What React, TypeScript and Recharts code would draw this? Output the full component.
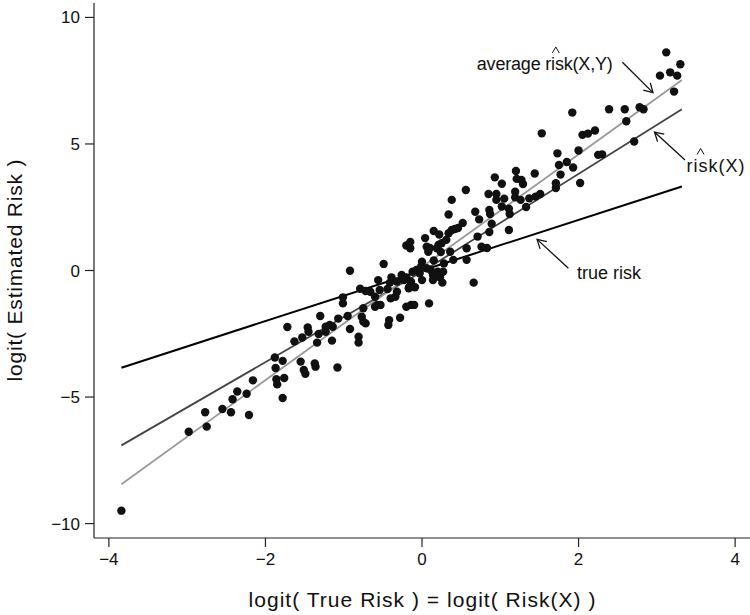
import React from 'react';
import { ComposedChart, Scatter, Line, XAxis, YAxis, ReferenceLine, ReferenceDot, Label } from 'recharts';

// logit(true risk) for each simulated subject
const trueLogit = [
  -3.84, -2.98, -2.75, -2.77, -2.55, -2.44, -2.42, -2.36, -2.24, -2.21,
  -2.16, -1.88, -1.78, -1.87, -1.86, -1.85, -1.76, -1.78, -1.72, -1.63,
  -1.53, -1.46, -1.55, -1.51, -1.49, -1.37, -1.36, -1.3, -1.34, -1.32,
  -1.45, -1.23, -1.18, -1.14, -1.23, -1.15, -1.07, -0.95, -0.92, -1.01,
  -1.01, -0.77, -0.75, -0.72, -0.81, -0.81, -1.08, -0.92, -0.49, -0.79,
  -0.72, -0.66, -0.56, -0.75, -0.6, -0.57, -0.53, -0.6, -0.54, -0.44,
  -0.41, -0.39, -0.42, -0.43, -0.28, -0.4, -0.34, -0.32, -0.32, -0.26,
  -0.23, -0.2, -0.16, -0.14, -0.2, -0.14, -0.1, -0.17, -0.09, -0.2,
  -0.15, -0.15, -0.12, -0.07, -0.03, 0.0, 0.0, 0.04, 0.06, 0.08,
  0.1, 0.06, 0.11, 0.14, 0.14, 0.15, 0.09, 0.15, 0.22, 0.19,
  0.21, 0.2, 0.23, 0.26, 0.27, 0.28, 0.25, 0.31, 0.36, 0.34,
  0.38, 0.34, 0.38, 0.42, 0.46, 0.52, 0.4, 0.57, 0.57, 0.56,
  0.68, 0.66, 0.71, 0.73, 0.76, 0.83, 0.85, 0.95, 0.95, 1.05,
  1.19, 1.19, 1.02, 1.11, 1.12, 1.26, 1.33, 1.37, 1.45, 1.51,
  0.86, 0.87, 0.89, 0.86, 1.11, 0.93, 1.02, 1.2, 1.21, 1.27,
  1.29, 1.44, 1.53, 1.71, 1.71, 1.77, 1.75, 1.85, 1.93, 2.02,
  1.73, 2.0, 1.92, 2.05, 2.12, 2.21, 2.25, 2.3, 2.39, 2.59,
  2.61, 2.78, 2.83, 2.71, 3.12, 3.04, 3.17, 3.26, 3.3, 3.22,
  0.24, -0.01,
];

// logit(estimated risk) for the same subjects
const estLogit = [
  -9.49, -6.37, -6.17, -5.6, -5.47, -5.6, -5.09, -4.78, -4.87, -5.71,
  -4.34, -3.44, -3.57, -3.85, -4.3, -4.5, -4.25, -5.04, -2.23, -2.8,
  -2.65, -2.25, -3.6, -3.93, -4.08, -3.67, -3.8, -1.8, -2.85, -2.51,
  -2.42, -2.22, -2.15, -2.22, -2.42, -2.77, -1.9, -1.8, -2.31, -1.06,
  -1.3, -1.83, -2.02, -2.09, -2.62, -2.85, -3.83, -0.01, 0.26, -0.72,
  -0.81, -0.84, -0.38, -1.49, -1.43, -1.36, -1.36, -1.04, -0.77, -0.73,
  -0.48, -0.27, -1.96, -2.15, -1.87, -1.1, -1.04, -0.84, -0.44, -0.18,
  -0.38, -0.27, -0.64, -0.44, -1.43, -1.36, -1.36, -0.7, -0.66, 0.99,
  1.13, 0.88, -0.05, 0.02, -0.11, -0.38, 0.35, 1.28, 0.94, 0.74,
  0.89, 0.09, 0.02, -0.18, -0.38, 0.4, -1.3, 1.56, 1.42, 0.88,
  1.01, -0.05, -0.27, -0.48, -0.05, 0.28, 1.08, 1.21, 0.74, 2.21,
  2.79, 1.47, 1.6, 1.64, 1.68, 1.88, 0.42, 0.42, 0.88, 3.18,
  2.32, -0.48, 1.34, 2.02, 0.94, 0.89, 3.02, 3.02, 2.79, 2.84,
  3.11, 2.89, 2.53, 2.44, 2.23, 2.79, 2.51, 2.85, 2.92, 3.02,
  2.39, 2.23, 1.85, 1.52, 1.6, 3.68, 3.43, 3.93, 3.62, 3.58,
  3.42, 3.83, 5.42, 3.45, 3.26, 3.79, 4.17, 4.29, 4.07, 3.46,
  4.63, 4.74, 6.24, 5.36, 5.41, 5.53, 4.57, 4.59, 6.37, 6.37,
  5.9, 6.45, 6.37, 5.1, 8.62, 7.7, 7.83, 7.7, 8.15, 7.07,
  0.73, 0.16,
];

// fitted curves, evaluated along the range of logit(true risk)
const curveX = [-3.84, 0, 3.32];
const trueRiskY = [-3.84, 0, 3.32];
const riskXHatY = [-6.91, -0.05, 6.37];
const avgRiskHatY = [-8.45, 0.14, 7.53];

const xTicks = [-4, -2, 0, 2, 4];
const yTicks = [-10, -5, 0, 5, 10];

const points = trueLogit.map((x, i) => ({ x, y: estLogit[i] }));
const trueRiskLine = curveX.map((x, i) => ({ x, y: trueRiskY[i] }));
const riskXLine = curveX.map((x, i) => ({ x, y: riskXHatY[i] }));
const avgRiskLine = curveX.map((x, i) => ({ x, y: avgRiskHatY[i] }));

const FONT = '"Liberation Sans", Arial, Helvetica, sans-serif';
const INK = '#111';

const minus = (v: number) => String(v).replace('-', '\u2212');

const Arrow = (props: any) => {
  const { x1, y1, x2, y2 } = props;
  const a = Math.atan2(y2 - y1, x2 - x1);
  const len = 10;
  const s = Math.PI / 6;
  const ax = x2 - len * Math.cos(a - s);
  const ay = y2 - len * Math.sin(a - s);
  const bx = x2 - len * Math.cos(a + s);
  const by = y2 - len * Math.sin(a + s);
  return (
    <g stroke={INK} strokeWidth={1.3} fill="none">
      <line x1={x1} y1={y1} x2={x2} y2={y2} />
      <polyline points={`${ax},${ay} ${x2},${y2} ${bx},${by}`} />
    </g>
  );
};

// text with a hat drawn over "risk" (as R plotmath hat())
const note = (text: string, width: number, hatAt: number | null) => (props: any) => {
  const { cx, cy } = props;
  return (
    <g>
      <text x={cx} y={cy} dy="0.35em" fontFamily={FONT} fontSize={18} fill={INK}
        textLength={width} lengthAdjust="spacing">
        {text}
      </text>
      {hatAt !== null && (
        <polyline points={`${cx + hatAt - 3.5},${cy - 11} ${cx + hatAt},${cy - 17} ${cx + hatAt + 3.5},${cy - 11}`}
          fill="none" stroke={INK} strokeWidth={1} />
      )}
    </g>
  );
};

const Dot = (props: any) => <circle cx={props.cx} cy={props.cy} r={4.2} fill={INK} />;

export default function App() {
  const tick = { fill: INK, fontSize: 17, fontFamily: FONT };
  return (
    <div style={{ position: 'absolute', left: 0, top: 0, background: '#fff' }}>
      <ComposedChart width={750} height={615} margin={{ top: 3, right: 0, bottom: 0, left: 0 }}>
        <XAxis type="number" dataKey="x" domain={[-4.19, 4.19]} allowDataOverflow ticks={xTicks}
          tickFormatter={minus} tick={tick} tickSize={9} tickMargin={6} height={77}
          axisLine={{ stroke: '#222', strokeWidth: 1.2 }} tickLine={{ stroke: '#222', strokeWidth: 1.2 }}>
          <Label content={({ viewBox }: any) => (
            <text x={viewBox.x + viewBox.width / 2} y={viewBox.y + 62} textAnchor="middle" dy="0.35em"
              fontFamily={FONT} fontSize={21} fill={INK} textLength={347} lengthAdjust="spacing">
              logit( True Risk ) = logit( Risk(X) )
            </text>
          )} />
        </XAxis>
        <YAxis type="number" dataKey="y" domain={[-10.57, 10.57]} allowDataOverflow ticks={yTicks}
          tickFormatter={minus} tick={tick} tickSize={9} tickMargin={5} width={94}
          axisLine={{ stroke: '#222', strokeWidth: 1.2 }} tickLine={{ stroke: '#222', strokeWidth: 1.2 }}>
          <Label content={({ viewBox }: any) => {
            const x = viewBox.x + 15;
            const y = viewBox.y + viewBox.height / 2;
            return (
              <text x={x} y={y} textAnchor="middle" dy="0.35em" transform={`rotate(-90 ${x} ${y})`}
                fontFamily={FONT} fontSize={21} fill={INK} textLength={222} lengthAdjust="spacing">
                logit( Estimated Risk )
              </text>
            );
          }} />
        </YAxis>
        <Scatter data={points} dataKey="y" shape={Dot} isAnimationActive={false} />
        <Line data={trueRiskLine} dataKey="y" type="linear" stroke="#000" strokeWidth={2} dot={false}
          activeDot={false} isAnimationActive={false} />
        <Line data={riskXLine} dataKey="y" type="linear" stroke="#444" strokeWidth={1.8} dot={false}
          activeDot={false} isAnimationActive={false} />
        <Line data={avgRiskLine} dataKey="y" type="linear" stroke="#999" strokeWidth={1.8} dot={false}
          activeDot={false} isAnimationActive={false} />

        <ReferenceLine segment={[{ x: 2.56, y: 8.23 }, { x: 2.95, y: 7.03 }]} shape={Arrow} />
        <ReferenceLine segment={[{ x: 3.36, y: 4.37 }, { x: 2.97, y: 5.47 }]} shape={Arrow} />
        <ReferenceLine segment={[{ x: 1.87, y: 0.09 }, { x: 1.47, y: 1.23 }]} shape={Arrow} />

        <ReferenceDot x={0.7} y={8.16} r={0} shape={note('average risk(X,Y)', 136, 79)} />
        <ReferenceDot x={3.38} y={4.15} r={0} shape={note('risk(X)', 58, 14)} />
        <ReferenceDot x={1.98} y={-0.1} r={0} shape={note('true risk', 64, null)} />
      </ComposedChart>
    </div>
  );
}
